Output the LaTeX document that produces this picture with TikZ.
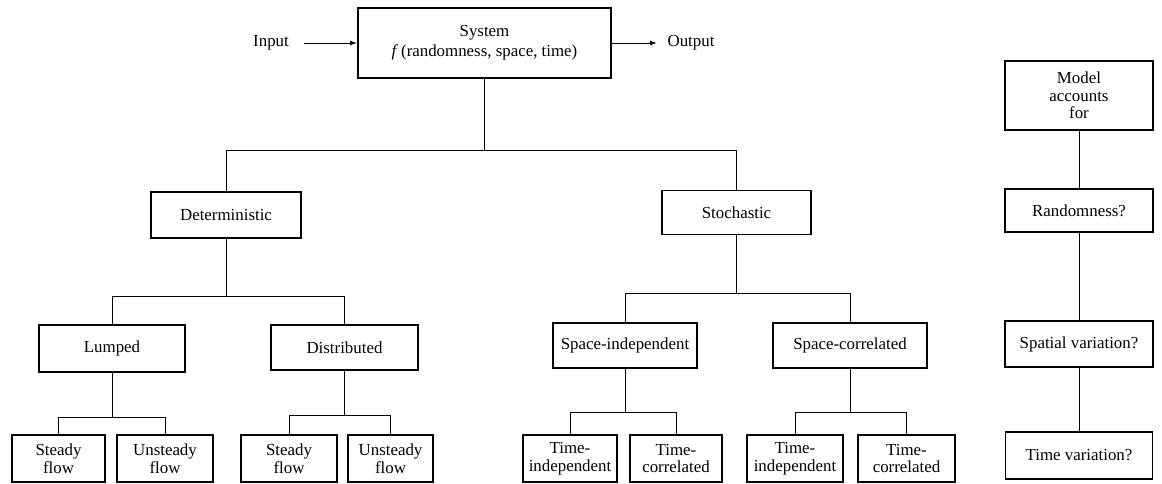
\documentclass[tikz,border=0pt]{standalone}
\usepackage{fontspec}
\setmainfont{Liberation Serif}
\usetikzlibrary{arrows.meta}

\tikzset{
    box/.style={draw, line width=1.1pt, align=center, inner sep=1pt, font=\fontsize{12}{12.5}\selectfont},
    leaf/.style={box, minimum height=1.18cm},
    link/.style={line width=0.7pt},
    feed/.style={line width=0.7pt, -{Latex[length=5pt, width=3.5pt]}},
    plain/.style={font=\fontsize{12}{12.5}\selectfont}
}

\begin{document}
\begin{tikzpicture}[x=0.025cm, y=-0.025cm]
    \useasboundingbox (0,0) rectangle (1162,484);

    \node[box, minimum width=6.33cm, minimum height=1.75cm] (sys) at (484.5,43)
        {System\\[2pt]\textit{f}\,(randomness, space, time)};
    \node[plain] (in) at (271,43) {Input};
    \node[plain] (out) at (691,43) {Output};
    \draw[feed, shorten <=7pt] (in) -- (sys);
    \draw[feed, shorten >=4pt] (sys) -- (out);

    \node[box, minimum width=3.75cm, minimum height=1.15cm] (det) at (226,215) {Deterministic};
    \node[box, minimum width=3.72cm, minimum height=1.1cm] (sto) at (736.5,212.5) {Stochastic};

    \node[box, minimum width=3.65cm, minimum height=1.18cm] (lump) at (112,348.5) {Lumped};
    \node[box, minimum width=3.68cm, minimum height=1.12cm] (dist) at (344.5,347.5) {Distributed};
    \node[box, minimum width=3.6cm, minimum height=1.12cm] (sind) at (625,345.5) {Space-independent};
    \node[box, minimum width=3.85cm, minimum height=1.12cm] (scor) at (850,345.5) {Space-correlated};

    \node[leaf, minimum width=2.33cm] (steadyA) at (58.5,458.5) {Steady\\flow};
    \node[leaf, minimum width=2.4cm] (unsteadyA) at (165,458.5) {Unsteady\\flow};
    \node[leaf, minimum width=2.4cm] (steadyB) at (289,458.5) {Steady\\flow};
    \node[leaf, minimum width=2.13cm] (unsteadyB) at (390.5,458.5) {Unsteady\\flow};
    \node[leaf, minimum width=2.35cm] (tindA) at (570,458.5) {Time-\\independent};
    \node[leaf, minimum width=2.3cm] (tcorA) at (676,458.5) {Time-\\correlated};
    \node[leaf, minimum width=2.4cm] (tindB) at (795,458.5) {Time-\\independent};
    \node[leaf, minimum width=2.42cm] (tcorB) at (906.5,458.5) {Time-\\correlated};

    \draw[link] (sys.south) -- ++(0,72) coordinate (jsys);
    \draw[link] (det.north) |- (jsys) -| (sto.north);
    \draw[link] (det.south) -- ++(0,58) coordinate (jdet);
    \draw[link] (lump.north) |- (jdet) -| (dist.north);
    \draw[link] (sto.south) -- ++(0,58.5) coordinate (jsto);
    \draw[link] (sind.north) |- (jsto) -| (scor.north);

    \draw[link] (lump.south) -- ++(0,44.5) coordinate (jlump);
    \draw[link] (steadyA.north) |- (jlump) -| (unsteadyA.north);
    \draw[link] (dist.south) -- ++(0,45) coordinate (jdist);
    \draw[link] (steadyB.north) |- (jdist) -| (unsteadyB.north);
    \draw[link] (sind.south) -- ++(0,44) coordinate (jsind);
    \draw[link] (tindA.north) |- (jsind) -| (tcorA.north);
    \draw[link] (scor.south) -- ++(0,44) coordinate (jscor);
    \draw[link] (tindB.north) |- (jscor) -| (tcorB.north);

    \node[box, minimum width=3.7cm, minimum height=1.72cm] (model) at (1079,95.5) {Model\\accounts\\for};
    \node[box, minimum width=3.7cm, minimum height=1.08cm] (rand) at (1079,210.5) {Randomness?};
    \node[box, minimum width=3.7cm, minimum height=1.15cm] (spat) at (1079,344) {Spatial variation?};
    \node[box, minimum width=3.68cm, minimum height=1.18cm] (timev) at (1079,455.5) {Time variation?};
    \draw[link] (model) -- (rand) -- (spat) -- (timev);
\end{tikzpicture}
\end{document}
